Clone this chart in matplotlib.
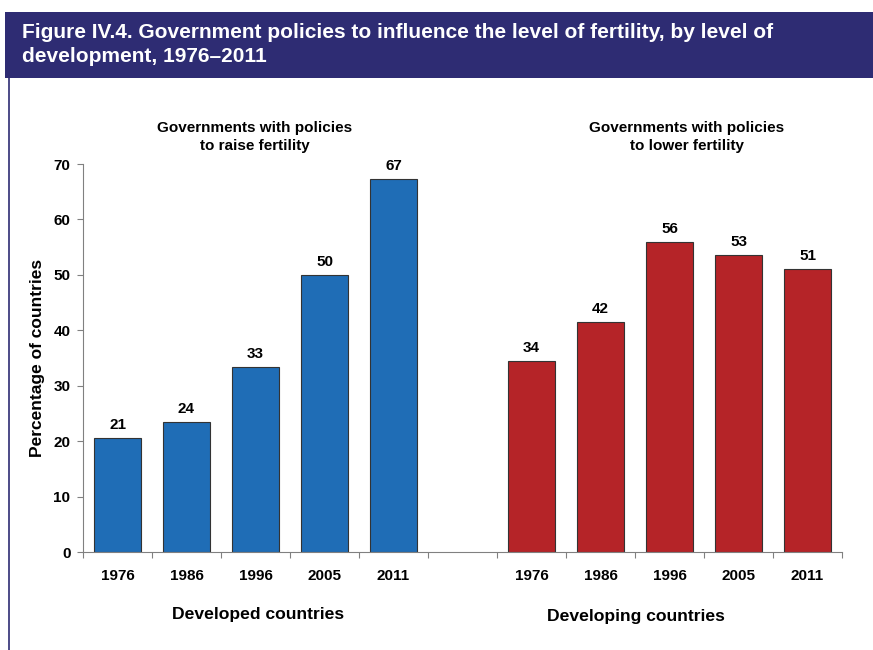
import matplotlib.pyplot as plt
from matplotlib.patches import Rectangle
import numpy as np

plt.rcParams['font.family'] = ['Liberation Sans', 'DejaVu Sans']

years = ['1976', '1986', '1996', '2005', '2011']
raise_vals = [20.6, 23.5, 33.3, 50.0, 67.3]
raise_labels = ['21', '24', '33', '50', '67']
lower_vals = [34.5, 41.5, 56.0, 53.5, 51.1]
lower_labels = ['34', '42', '56', '53', '51']
group_names = ['Developed countries', 'Developing countries']
group_titles = ['Governments with policies\nto raise fertility',
                'Governments with policies\nto lower fertility']

W, H = 873, 650
fig = plt.figure(figsize=(W / 100, H / 100), dpi=100)

# title bar and frame
navy = '#2E2C73'
fig.patches.append(Rectangle((5 / W, 1 - 78 / H), 1, 66 / H, transform=fig.transFigure,
                             facecolor=navy, edgecolor='none'))
fig.lines.append(plt.Line2D([9 / W, 9 / W], [0, 1 - 78 / H], transform=fig.transFigure,
                            color=navy, lw=1.2))
fig.text(22 / W, 1 - 32 / H, 'Figure IV.4. Government policies to influence the level of fertility, by level of',
         color='white', fontsize=15, fontweight='bold', va='center', ha='left')
fig.text(22 / W, 1 - 57 / H, 'development, 1976\u20132011',
         color='white', fontsize=15, fontweight='bold', va='center', ha='left')

ax = fig.add_axes([83 / W, 98 / H, (842 - 83) / W, (552 - 164) / H])

x_raise = np.arange(5)
x_lower = np.arange(6, 11)
ax.bar(x_raise, raise_vals, width=0.67, color='#1F6DB6', edgecolor='#333333', linewidth=0.8)
ax.bar(x_lower, lower_vals, width=0.67, color='#B52428', edgecolor='#333333', linewidth=0.8)

for xs, vals, labs in [(x_raise, raise_vals, raise_labels), (x_lower, lower_vals, lower_labels)]:
    for x, v, lab in zip(xs, vals, labs):
        ax.text(x, v + 1.1, lab, ha='center', va='bottom', fontsize=11, fontweight='bold')

ax.set_xlim(-0.5, 10.5)
ax.set_ylim(0, 70)
ax.set_yticks(range(0, 71, 10))
ax.set_xticks(np.arange(-0.5, 10.6, 1))
ax.set_xticklabels([])
ax.set_xticks(list(x_raise) + list(x_lower), minor=True)
ax.set_xticklabels(years + years, minor=True)
ax.tick_params(axis='x', which='minor', length=0, pad=12, labelsize=11)
ax.tick_params(axis='x', which='major', length=4, color='#808080', direction='out')
ax.tick_params(axis='y', length=4, color='#808080', direction='out', labelsize=11, pad=5)
for lab in ax.get_xticklabels(minor=True) + ax.get_yticklabels():
    lab.set_fontweight('bold')

for s in ['top', 'right']:
    ax.spines[s].set_visible(False)
for s in ['left', 'bottom']:
    ax.spines[s].set_color('#808080')

ax.set_ylabel('Percentage of countries', fontsize=12.5, fontweight='bold', labelpad=6)

fig.text(255 / W, 1 - 137 / H, group_titles[0], ha='center', va='center', fontsize=11,
         fontweight='bold', linespacing=1.35)
fig.text(687 / W, 1 - 137 / H, group_titles[1], ha='center', va='center', fontsize=11,
         fontweight='bold', linespacing=1.35)
fig.text(258 / W, 1 - 615 / H, group_names[0], ha='center', va='center', fontsize=12.6, fontweight='bold')
fig.text(636 / W, 1 - 617 / H, group_names[1], ha='center', va='center', fontsize=12.6, fontweight='bold')

fig.savefig('out.png', dpi=100)
